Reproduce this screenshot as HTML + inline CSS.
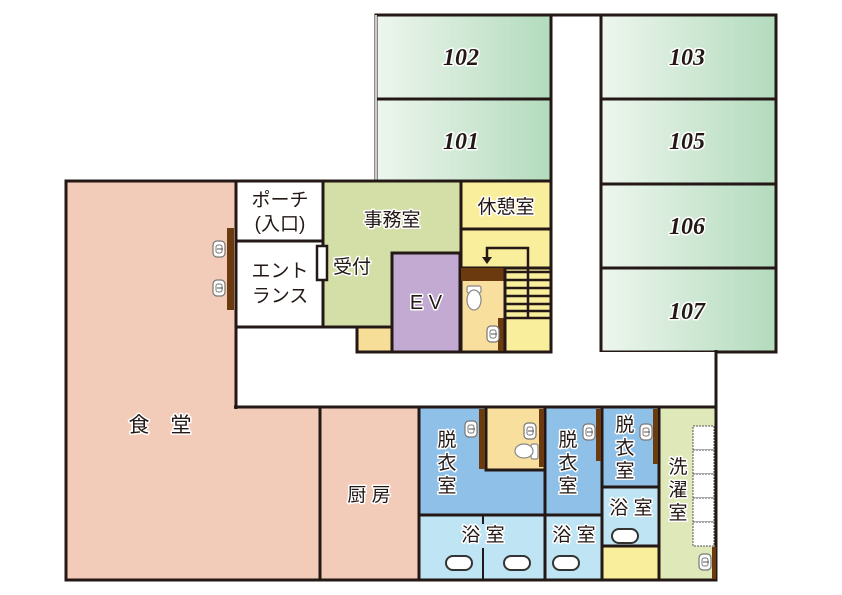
<!DOCTYPE html>
<html><head><meta charset="utf-8"><style>
html,body{margin:0;padding:0;background:#fff;}
svg{display:block}
text{font-family:"Liberation Sans","Noto Sans CJK JP",sans-serif;fill:#231815;stroke:#fff;stroke-width:3;paint-order:stroke;stroke-linejoin:round;}
.n{font-family:"Liberation Serif",serif;font-style:italic;font-weight:bold;font-size:24px;}
</style></head><body>
<svg width="842" height="595" viewBox="0 0 842 595" xmlns="http://www.w3.org/2000/svg">
<defs>
<linearGradient id="g" x1="0" x2="1" y1="0" y2="0"><stop offset="0" stop-color="#eef6ee"/><stop offset="1" stop-color="#b3dbbd"/></linearGradient>
<g id="sink"><rect x="-6" y="-8" width="12" height="16" rx="4" fill="#fff" stroke="#777" stroke-width="1.2"/><rect x="-3" y="-4" width="6" height="8" rx="2" fill="none" stroke="#777" stroke-width="1"/><line x1="-2" y1="0" x2="4" y2="0" stroke="#555" stroke-width="1"/></g>
<g id="tub"><rect x="-13" y="-7" width="26" height="14" rx="7" fill="#fff" stroke="#333" stroke-width="2"/></g>
</defs>
<g stroke="#231815" stroke-width="3">
<rect x="551" y="15" width="50" height="337" fill="#fff" stroke="none"/>
<line x1="551" y1="15" x2="601" y2="15"/>
<rect x="376" y="15" width="175" height="84" fill="url(#g)"/>
<rect x="376" y="99" width="175" height="82" fill="url(#g)"/>
<line x1="376" y1="15" x2="376" y2="181" stroke="#ccc" stroke-width="2"/>
<rect x="601" y="15" width="175" height="84" fill="url(#g)"/>
<rect x="601" y="99" width="175" height="85" fill="url(#g)"/>
<rect x="601" y="184" width="175" height="84" fill="url(#g)"/>
<rect x="601" y="268" width="175" height="84" fill="url(#g)"/>
<path d="M66 181 H236 V407 H320 V580 H66 Z" fill="#f3ccb9"/>
<path d="M237 327 H357 V352 H716 V406 H237 Z" fill="#fff" stroke="none"/>
<line x1="716" y1="350" x2="716" y2="409"/>
<line x1="236" y1="325" x2="236" y2="409"/>
<line x1="234" y1="407" x2="322" y2="407"/>
<rect x="236" y="181" width="87" height="60" fill="#fff"/>
<rect x="236" y="241" width="87" height="86" fill="#fff"/>
<path d="M323 181 H461 V253 H392 V327 H323 Z" fill="#d4dfa8"/>
<rect x="357" y="327" width="35" height="25" fill="#f7de98"/>
<rect x="392" y="253" width="68" height="99" fill="#c3aad3"/>
<rect x="461" y="181" width="90" height="48" fill="#f9ee9c"/>
<rect x="461" y="229" width="90" height="123" fill="#f9ee9c"/>
<rect x="461" y="268" width="44" height="84" fill="#f8df9e"/>
<rect x="320" y="407" width="99" height="173" fill="#f3ccb9"/>
<rect x="419" y="407" width="126" height="108" fill="#8fc1e8"/>
<rect x="486" y="407" width="59" height="63" fill="#f8df9e"/>
<rect x="419" y="515" width="126" height="65" fill="#bfe5f4"/>
<rect x="545" y="407" width="57" height="108" fill="#8fc1e8"/>
<rect x="545" y="515" width="57" height="65" fill="#bfe5f4"/>
<rect x="602" y="407" width="57" height="80" fill="#8fc1e8"/>
<rect x="602" y="487" width="57" height="59" fill="#bfe5f4"/>
<rect x="602" y="546" width="57" height="34" fill="#f9ee9c"/>
<rect x="659" y="407" width="57" height="173" fill="#dee8b8"/>
</g>
<line x1="483" y1="516" x2="483" y2="524" stroke="#231815" stroke-width="2"/>
<line x1="483" y1="548" x2="483" y2="579" stroke="#231815" stroke-width="2"/>
<g fill="#6b3a0e">
<rect x="227" y="228" width="7" height="82"/>
<rect x="461" y="268" width="44" height="13"/>
<rect x="498" y="318" width="6" height="33"/>
<rect x="479" y="409" width="6" height="60"/>
<rect x="539" y="409" width="5" height="58"/>
<rect x="596" y="409" width="5" height="52"/>
<rect x="653" y="409" width="5" height="55"/>
<rect x="712" y="547" width="4" height="32"/>
</g>
<rect x="317" y="246" width="10" height="34" fill="#fff" stroke="#231815" stroke-width="2.5"/>
<use href="#sink" x="219" y="249"/><use href="#sink" x="219" y="288"/>
<use href="#sink" x="493" y="334"/>
<use href="#sink" x="471" y="429"/><use href="#sink" x="530" y="431"/>
<use href="#sink" x="589" y="432"/><use href="#sink" x="646" y="432"/>
<use href="#sink" x="705" y="562"/>
<g fill="#fff" stroke="#888" stroke-width="1.2">
<rect x="467" y="286" width="14" height="7" rx="2"/><ellipse cx="474" cy="300" rx="7" ry="10"/>
<rect x="531" y="444" width="7" height="15" rx="2"/><ellipse cx="524" cy="451" rx="9" ry="7"/>
</g>
<g stroke="#231815" stroke-width="2.5" fill="none">
<line x1="505" y1="272" x2="551" y2="272"/><line x1="505" y1="280" x2="551" y2="280"/>
<line x1="505" y1="288" x2="551" y2="288"/><line x1="505" y1="296" x2="551" y2="296"/>
<line x1="505" y1="304" x2="551" y2="304"/><line x1="505" y1="311" x2="551" y2="311"/>
<line x1="505" y1="318" x2="551" y2="318"/>
<line x1="505" y1="268" x2="551" y2="268" stroke-width="3"/>
<line x1="505" y1="268" x2="505" y2="352" stroke-width="3"/>
<polyline points="528,318 528,248 487,248 487,258"/>
</g>
<polygon points="482,257 492,257 487,264" fill="#231815"/>
<g fill="#fff" stroke="#555" stroke-width="1" stroke-dasharray="2,1">
<rect x="693" y="426" width="21" height="24"/><rect x="693" y="450" width="21" height="24"/>
<rect x="693" y="474" width="21" height="24"/><rect x="693" y="498" width="21" height="24"/>
<rect x="693" y="522" width="21" height="24"/>
</g>
<use href="#tub" x="459" y="563"/><use href="#tub" x="517" y="563"/>
<use href="#tub" x="566" y="563"/><use href="#tub" x="625" y="536"/>
<text class="n" x="461" y="65" text-anchor="middle">102</text>
<text class="n" x="461" y="149" text-anchor="middle">101</text>
<text class="n" x="687" y="65" text-anchor="middle">103</text>
<text class="n" x="687" y="149" text-anchor="middle">105</text>
<text class="n" x="687" y="234" text-anchor="middle">106</text>
<text class="n" x="687" y="319" text-anchor="middle">107</text>
<g text-anchor="middle">
<text x="280" y="206" font-size="19">ポーチ</text>
<text x="280" y="230" font-size="19">(入口)</text>
<text x="280" y="277" font-size="19">エント</text>
<text x="280" y="302" font-size="19">ランス</text>
<text x="392" y="226" font-size="19">事務室</text>
<text x="352" y="273" font-size="19">受付</text>
<text x="426" y="309" font-size="20">E V</text>
<text x="506" y="213" font-size="19">休憩室</text>
<text x="160" y="432" font-size="21">食　堂</text>
<text x="369" y="501" font-size="19">厨 房</text>
<text x="447" y="446" font-size="19">脱</text><text x="447" y="469" font-size="19">衣</text><text x="447" y="492" font-size="19">室</text>
<text x="568" y="446" font-size="19">脱</text><text x="568" y="469" font-size="19">衣</text><text x="568" y="492" font-size="19">室</text>
<text x="625" y="431" font-size="19">脱</text><text x="625" y="454" font-size="19">衣</text><text x="625" y="477" font-size="19">室</text>
<text x="678" y="473" font-size="19">洗</text><text x="678" y="496" font-size="19">濯</text><text x="678" y="519" font-size="19">室</text>
<text x="483" y="541" font-size="19">浴 室</text>
<text x="574" y="541" font-size="19">浴 室</text>
<text x="631" y="514" font-size="19">浴 室</text>
</g>
</svg>
</body></html>
